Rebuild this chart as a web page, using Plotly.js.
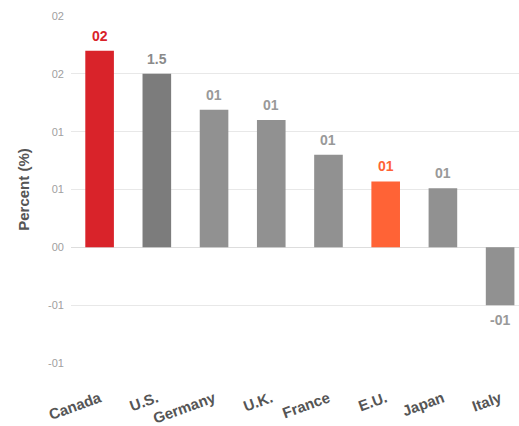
<!DOCTYPE html>
<html><head><meta charset="utf-8">
<script src="https://cdn.plot.ly/plotly-3.0.1.min.js"></script>
<style>html,body{margin:0;padding:0;background:#fff}#chart{width:519px;height:426px}</style>
</head><body><div id="chart"></div>
<script>
const categories = ["Canada", "U.S.", "Germany", "U.K.", "France", "E.U.", "Japan", "Italy"];
const values = [1.70, 1.50, 1.19, 1.10, 0.80, 0.57, 0.51, -0.50];
const barLabels = ["02", "1.5", "01", "01", "01", "01", "01", "-01"];
const barColors = ["#d9232a", "#7c7c7c", "#919191", "#919191", "#919191", "#ff6336", "#919191", "#919191"];
const labelColors = ["#d9232a", "#8a8a8a", "#999999", "#999999", "#999999", "#ff6336", "#999999", "#999999"];
const yTickVals = [-1, -0.5, 0, 0.5, 1, 1.5, 2];
const yTickText = ["-01", "-01", "00", "01", "01", "02", "02"];

const FONT = "Arial, Liberation Sans, sans-serif";
const trace = {
  type: "bar",
  x: categories,
  y: values,
  marker: {color: barColors},
  width: 0.5,
  hoverinfo: "none"
};
const annotations = categories.map((c, i) => ({
  x: c, y: values[i], xref: "x", yref: "y",
  text: "<b>" + barLabels[i] + "</b>",
  showarrow: false,
  yanchor: values[i] >= 0 ? "bottom" : "top",
  yshift: values[i] >= 0 ? 5 : -5,
  font: {family: FONT, size: 14, color: labelColors[i]}
}));
const layout = {
  width: 519, height: 426,
  margin: {l: 71, r: 0, t: 16, b: 63},
  paper_bgcolor: "#fff", plot_bgcolor: "#fff",
  showlegend: false,
  font: {family: FONT},
  annotations: annotations,
  xaxis: {
    range: [-0.5, 7.33],
    tickangle: -20,
    tickfont: {family: FONT, size: 15, color: "#555555", weight: "bold"},
    ticklabelstandoff: 23,
    showgrid: false, showline: false, ticks: "", zeroline: false,
    fixedrange: true
  },
  yaxis: {
    range: [-1, 2],
    tickvals: yTickVals, ticktext: yTickText,
    tickfont: {family: FONT, size: 11, color: "#a0a0a0"},
    gridcolor: "#e8e8e8", gridwidth: 1,
    zeroline: true, zerolinecolor: "#dddddd", zerolinewidth: 1,
    showline: false, ticks: "",
    ticklabelstandoff: 6,
    title: {text: "Percent (%)", font: {family: FONT, size: 15, color: "#555555", weight: "bold"}, standoff: 14},
    fixedrange: true
  }
};
Plotly.newPlot("chart", [trace], layout, {displayModeBar: false, staticPlot: true});
</script></body></html>
